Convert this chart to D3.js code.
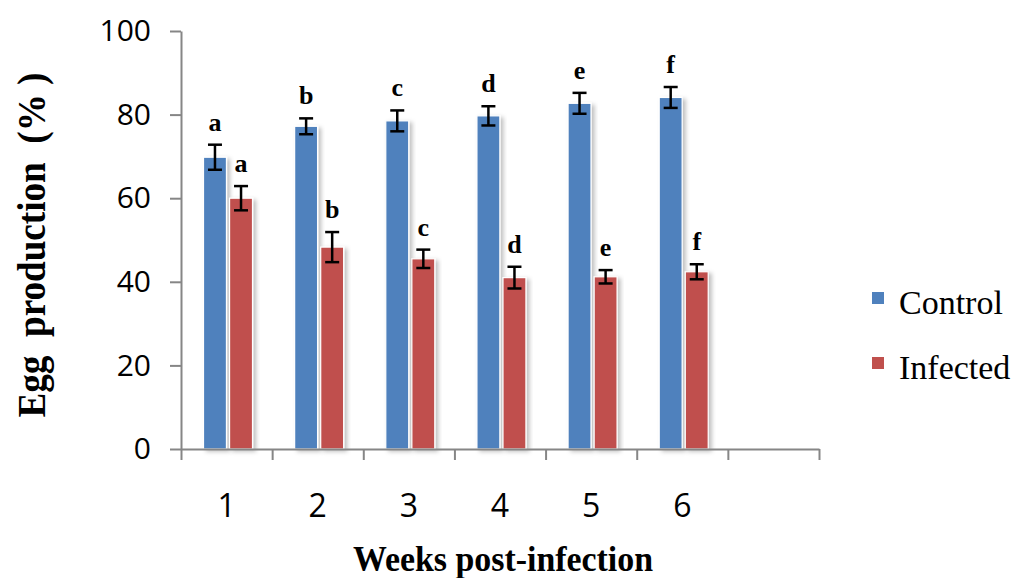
<!DOCTYPE html>
<meta charset="utf-8">
<script src="https://cdn.jsdelivr.net/npm/d3@7"></script>
<style>
  body { margin: 0; background: #fff; }
  .tick text { font-family: "Liberation Sans Narrow", "Open Sans", sans-serif; fill: #000; }
</style>
<div id="chart"></div>
<script>
// values
var weeks = ["1", "2", "3", "4", "5", "6", ""];   // last slot is empty in the original
var series = ["Control", "Infected"];
var control     = [69.8, 77.2, 78.5, 79.7, 82.7, 84.1];
var controlErr  = [3.0, 1.9, 2.5, 2.3, 2.5, 2.5];
var infected    = [60.0, 48.3, 45.5, 41.0, 41.2, 42.4];
var infectedErr = [2.9, 3.6, 2.2, 2.6, 1.6, 1.8];
var letters = ["a", "b", "c", "d", "e", "f"];
var yTicks = [0, 20, 40, 60, 80, 100];
var colors = ["#4F81BD", "#C0504D"];

var W = 1015, H = 578;
var svg = d3.select("#chart").append("svg")
    .attr("width", W).attr("height", H);

// soft excel-like shadow
var defs = svg.append("defs");
var f = defs.append("filter").attr("id", "shadow")
    .attr("x", "-20%").attr("y", "-5%").attr("width", "150%").attr("height", "115%");
f.append("feDropShadow").attr("dx", 3).attr("dy", 2).attr("stdDeviation", 2)
    .attr("flood-color", "#000").attr("flood-opacity", 0.25);

var y = d3.scaleLinear().domain([0, 100]).range([449, 31]);
var x0 = d3.scaleBand().domain(d3.range(weeks.length)).range([181, 819]);
var x1 = d3.scaleBand().domain(series).range([22.5, 71.5]).paddingInner(0.12);
var xb = d3.scaleLinear().domain([0, weeks.length]).range([181, 819]);

// build rows from the arrays
var rows = [];
control.forEach(function(v, i) {
  rows.push({ i: i, s: "Control", v: v, e: controlErr[i], c: colors[0] });
  rows.push({ i: i, s: "Infected", v: infected[i], e: infectedErr[i], c: colors[1] });
});

// bars
svg.append("g").selectAll("rect").data(rows).join("rect")
    .attr("x", function(d) { return x0(d.i) + x1(d.s); })
    .attr("y", function(d) { return y(d.v); })
    .attr("width", x1.bandwidth())
    .attr("height", function(d) { return y(0) - y(d.v); })
    .attr("fill", function(d) { return d.c; })
    .attr("stroke", "#fff").attr("stroke-width", 1.2)
    .attr("filter", "url(#shadow)");

// error bars
var eb = svg.append("g").attr("stroke", "#000").attr("stroke-width", 2.5);
rows.forEach(function(d) {
  var cx = x0(d.i) + x1(d.s) + x1.bandwidth() / 2;
  eb.append("line").attr("x1", cx).attr("x2", cx)
    .attr("y1", y(d.v + d.e)).attr("y2", y(d.v - d.e));
  eb.append("line").attr("x1", cx - 7).attr("x2", cx + 7)
    .attr("y1", y(d.v + d.e)).attr("y2", y(d.v + d.e));
  eb.append("line").attr("x1", cx - 7).attr("x2", cx + 7)
    .attr("y1", y(d.v - d.e)).attr("y2", y(d.v - d.e));
});

// significance letters
svg.append("g").selectAll("text").data(rows).join("text")
    .attr("x", function(d) { return x0(d.i) + x1(d.s) + x1.bandwidth() / 2; })
    .attr("y", function(d) { return y(d.v + d.e) - 14; })
    .attr("text-anchor", "middle")
    .style("font-family", "'Liberation Serif', 'Times New Roman', serif")
    .style("font-weight", "bold").style("font-size", "26px")
    .text(function(d) { return letters[d.i]; });

// y axis
var yAxis = svg.append("g").attr("transform", "translate(181,0)")
    .call(d3.axisLeft(y).tickValues(yTicks).tickSize(11).tickSizeOuter(0).tickPadding(19));
yAxis.selectAll("text").style("font-size", "30px");

// x axis: boundary ticks
var xAxis = svg.append("g").attr("transform", "translate(0,449)")
    .call(d3.axisBottom(xb).tickValues(d3.range(weeks.length + 1)).tickSize(11)
      .tickSizeOuter(0).tickFormat(""));
// x labels at category centers
var xLab = svg.append("g").attr("transform", "translate(0,449)")
    .call(d3.axisBottom(x0).tickSize(0).tickPadding(45)
      .tickFormat(function(i) { return weeks[i]; }));
xLab.select(".domain").remove();
xLab.selectAll("text").style("font-size", "32px");

svg.selectAll(".domain, .tick line").attr("stroke", "#868686").attr("stroke-width", 2);

// axis titles
svg.append("text")
    .attr("x", 503).attr("y", 571)
    .attr("text-anchor", "middle")
    .style("font-family", "'Liberation Serif', 'Times New Roman', serif")
    .style("font-weight", "bold").style("font-size", "35px")
    .attr("textLength", 300).attr("lengthAdjust", "spacingAndGlyphs")
    .text("Weeks post-infection");

svg.append("text")
    .attr("transform", "translate(45,245) rotate(-90)")
    .attr("text-anchor", "middle")
    .style("font-family", "'Liberation Serif', 'Times New Roman', serif")
    .style("font-weight", "bold").style("font-size", "40px")
    .style("white-space", "pre")
    .attr("textLength", 345).attr("lengthAdjust", "spacingAndGlyphs")
    .text("Egg  production  (% )");

// legend
var leg = svg.append("g");
series.forEach(function(s, k) {
  var gy = 298 + k * 65;
  leg.append("rect").attr("x", 872).attr("y", gy - 6).attr("width", 12).attr("height", 12)
    .attr("fill", colors[k]);
  leg.append("text").attr("x", 899).attr("y", gy + 16)
    .style("font-family", "'Liberation Serif', 'Times New Roman', serif")
    .style("font-size", "34px")
    .text(s);
});
</script>
